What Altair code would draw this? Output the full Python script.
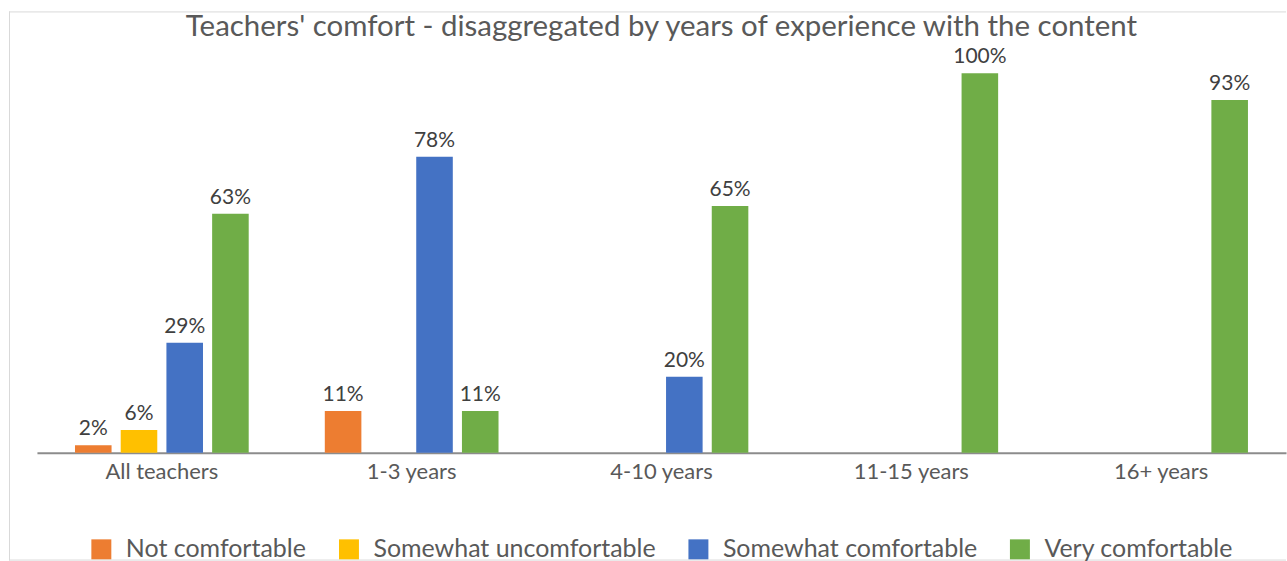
import altair as alt
import pandas as pd

categories = ["All teachers", "1-3 years", "4-10 years", "11-15 years", "16+ years"]
series = ["Not comfortable", "Somewhat uncomfortable", "Somewhat comfortable", "Very comfortable"]
colors = ["#ED7D31", "#FFC000", "#4472C4", "#70AD47"]

not_comfortable = [2, 11, None, None, None]
somewhat_uncomfortable = [6, None, None, None, None]
somewhat_comfortable = [29, 78, 20, None, None]
very_comfortable = [63, 11, 65, 100, 93]

rows = []
for s, vals in zip(series, [not_comfortable, somewhat_uncomfortable, somewhat_comfortable, very_comfortable]):
    for c, v in zip(categories, vals):
        if v is not None:
            rows.append({"category": c, "series": s, "value": v, "label": f"{v}%"})
df = pd.DataFrame(rows)

W, H = 1251, 380
FONT = "Lato"

base = alt.Chart(df).encode(
    x=alt.X(
        "category:N",
        sort=categories,
        scale=alt.Scale(domain=categories, paddingInner=0.268, paddingOuter=0.134),
        axis=alt.Axis(
            title=None, labelAngle=0, ticks=False, domainColor="#8c8c8c", domainWidth=2,
            labelColor="#595959", labelFont=FONT, labelFontSize=22, labelPadding=9,
            grid=False,
        ),
    ),
    xOffset=alt.XOffset(
        "series:N", sort=series,
        scale=alt.Scale(domain=series, paddingInner=0.2, paddingOuter=0.1),
    ),
)

bars = base.mark_bar().encode(
    y=alt.Y("value:Q", scale=alt.Scale(domain=[0, 100]), axis=None),
    color=alt.Color(
        "series:N",
        sort=series,
        scale=alt.Scale(domain=series, range=colors),
        legend=alt.Legend(
            title=None, orient="none", legendX=52, legendY=464, direction="horizontal",
            symbolType="square", symbolSize=400, symbolStrokeWidth=0,
            labelFont=FONT, labelFontSize=25, labelColor="#595959", labelLimit=600,
            labelOffset=12, columnPadding=30, padding=0,
        ),
    ),
)

labels = base.mark_text(
    dy=-10, baseline="alphabetic", font=FONT, fontSize=21, color="#404040"
).encode(
    y=alt.Y("value:Q"),
    text="label:N",
)

frame_data = alt.Data(values=[{}])
frame_top = alt.Chart(frame_data).mark_rule(color="#d9d9d9", strokeWidth=1).encode(
    x=alt.value(-28), x2=alt.value(W), y=alt.value(-61.5)
)
frame_bottom = alt.Chart(frame_data).mark_rule(color="#d9d9d9", strokeWidth=1).encode(
    x=alt.value(-28), x2=alt.value(W), y=alt.value(487.5)
)
frame_left = alt.Chart(frame_data).mark_rule(color="#d9d9d9", strokeWidth=1).encode(
    x=alt.value(-27.5), y=alt.value(-62), y2=alt.value(488)
)

chart = alt.layer(frame_top, frame_bottom, frame_left, bars, labels).properties(
    width=W, height=H,
    title=alt.TitleParams(
        "Teachers' comfort - disaggregated by years of experience with the content",
        font=FONT, fontSize=29.5, fontWeight="normal", color="#595959", anchor="middle", offset=-32,
    ),
    autosize=alt.AutoSizeParams(type="pad"),
    padding={"left": 8, "top": 10, "right": 0, "bottom": 0},
).configure_view(stroke=None)

chart.save("out.html", embed_options={"renderer": "svg", "actions": False})
